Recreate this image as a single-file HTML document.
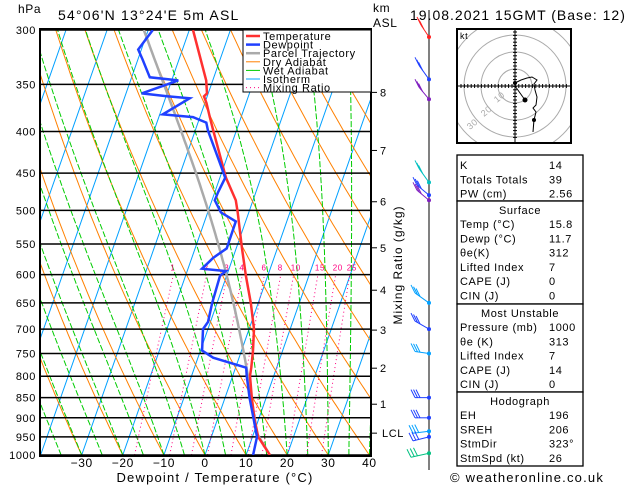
<!DOCTYPE html>
<html><head><meta charset="utf-8"><style>
body{margin:0;background:#fff;}
svg{display:block;font-family:"Liberation Sans","DejaVu Sans",sans-serif;letter-spacing:0.6px;}
</style></head><body>
<svg id="c" width="629" height="486" xmlns="http://www.w3.org/2000/svg">
<defs><clipPath id="pc"><rect x="40" y="29" width="331" height="427"/></clipPath>
<clipPath id="hc"><rect x="458" y="30" width="112" height="112"/></clipPath></defs>
<g id="bg" clip-path="url(#pc)"></g>
<g id="iso"></g>
<g id="prof" clip-path="url(#pc)"></g>
<rect x="40" y="29" width="331" height="427" fill="none" stroke="#000" stroke-width="2"/>
<text x="18" y="13" font-size="12">hPa</text>
<text x="58" y="20" font-size="14" letter-spacing="1.2">54°06'N 13°24'E 5m ASL</text>
<text x="373" y="12" font-size="12">km</text>
<text x="373" y="27" font-size="12">ASL</text>
<text x="410" y="20" font-size="14" letter-spacing="1">19.08.2021 15GMT (Base: 12)</text>
<g id="legend">
<rect x="243" y="30" width="128" height="62" fill="#fff" stroke="#000" stroke-width="1"/>
</g>
<g id="ylab"></g>
<g id="xlab"></g>
<text x="215" y="482" font-size="13" letter-spacing="1.2" text-anchor="middle">Dewpoint / Temperature (°C)</text>
<text transform="translate(402,265) rotate(-90)" font-size="12" letter-spacing="1" text-anchor="middle">Mixing Ratio (g/kg)</text>
<g id="km"></g>
<g id="wind"></g>
<g id="hodo"></g>
<g id="tbl"></g>
<text x="450" y="482" font-size="13" letter-spacing="1.2">© weatheronline.co.uk</text>
</svg>
<script>
// ---- data ----
const tempP = [1000,950,900,850,799,780,744,700,650,602,557,503,486,456,399,384,369,362,359,346,300];
const tempT = [15.8,11.4,8.8,6.5,4.2,3.8,2.8,1.2,-1.8,-5.3,-8.6,-12.7,-14.2,-18.5,-25.6,-27.6,-29.6,-30.8,-30.3,-31.6,-39.1];
const dewP = [1000,950,900,851,799,781,759,744,700,686,650,602,594,590,572,557,516,503,486,475,456,444,399,390,384,381,364,362,359,346,343,326,317,300];
const dewT = [11.7,11.1,8.6,6.0,3.4,2.6,-6.3,-9.6,-11.2,-10.6,-11.2,-11.6,-10.6,-16.6,-14.8,-12.3,-12.4,-16.8,-19.3,-19.2,-18.7,-20.3,-26.9,-28.0,-31.7,-39.3,-34.1,-39.8,-46.2,-38.4,-45.6,-48.9,-50.8,-48.9];
const pTicks = [300,350,400,450,500,550,600,650,700,750,800,850,900,950,1000];
const tTicks = [-30,-20,-10,0,10,20,30,40];
const mixRatios = [1,2,3,4,6,8,10,15,20,25];
const kmLabels = ['8','7','6','5','4','3','2','1','LCL'];
const kmPress = [358,422,488,556,627,702,782,866,940];
const tableLabels = ['K','Totals Totals','PW (cm)'];
const tableValues = ['14','39','2.56'];
const surfLabels = ['Temp (°C)','Dewp (°C)','θe(K)','Lifted Index','CAPE (J)','CIN (J)'];
const surfValues = ['15.8','11.7','312','7','0','0'];
const muLabels = ['Pressure (mb)','θe (K)','Lifted Index','CAPE (J)','CIN (J)'];
const muValues = ['1000','313','7','14','0'];
const hodoLabels = ['EH','SREH','StmDir','StmSpd (kt)'];
const hodoValues = ['196','206','323°','26'];
// ---- axes ----
const NS='http://www.w3.org/2000/svg';
const Y0=30,Y1=455,X0=205,SX=4.11,SK=0.35;
function yP(p){return Y0+(Y1-Y0)*Math.log(p/300)/Math.log(1000/300);}
function xT(t,p){return X0+t*SX+(Y1-yP(p))*SK;}
function el(tag,attrs,parent){const e=document.createElementNS(NS,tag);for(const k in attrs)e.setAttribute(k,attrs[k]);parent.appendChild(e);return e;}
function line(pts,color,w,dash,parent){return el('polyline',{points:pts.map(a=>a[0].toFixed(1)+','+a[1].toFixed(1)).join(' '),fill:'none',stroke:color,'stroke-width':w,'stroke-dasharray':dash||'none'},parent);}
const bg=document.getElementById('bg');
const plev=[];for(let p=1000;p>=290;p-=10)plev.push(p);
for(let t=-130;t<=40;t+=10){const l=line([[xT(t,1000),yP(1000)],[xT(t,300),yP(300)]],'#00a0ff',1,null,bg);

}
for(let th=-40;th<=200;th+=10){const pts=plev.map(p=>{const T=(th+273.15)*Math.pow(p/1000,0.286)-273.15;return[xT(T,p),yP(p)];});
const l=line(pts,'#ff8000',1,null,bg);

}
function es(T){return 6.112*Math.exp(17.67*T/(T+243.5));}
function moist(T0,p0,p1){const pts=[];let T=T0+273.15;const step=p1<p0?-5:5;for(let p=p0;step<0?p>=p1:p<=p1;p+=step){pts.push([T-273.15,p]);const e=es(T-273.15);const rs=0.622*e/(p-e);const Rd=287,Lv=2.5e6,cp=1004;const d=(Rd*T+Lv*rs)/(p*(cp+Lv*Lv*rs*0.622/(Rd*T*T)));T+=d*step;}return pts;}
for(let tw=-40;tw<=40;tw+=5){const pts=moist(tw,1000,300).map(a=>[xT(a[0],a[1]),yP(a[1])]);
const l=line(pts,'#00cc00',1,'6,2',bg);

}
function tdw(w,p){const e=w*p/(622+w);const L=Math.log(e/6.112);return 243.5*L/(17.67-L);}
const mlev=[];for(let p=1000;p>=600;p-=10)mlev.push(p);
mixRatios.forEach(w=>{const l=line(mlev.map(p=>[xT(tdw(w,p),p),yP(p)]),'#ff0080',1,'1,3',bg);


const t=el('text',{x:xT(tdw(w,600),600)-3,y:yP(600)-4,'font-size':8,fill:'#ff0080'},bg);t.textContent=w;

});
const iso=document.getElementById('iso'),yl=document.getElementById('ylab');
pTicks.forEach(p=>{const l=el('line',{x1:40,x2:371,y1:yP(p),y2:yP(p),stroke:'#000','stroke-width':1.5},iso);


const t=el('text',{x:36,y:yP(p)+4,'font-size':11,'text-anchor':'end'},yl);t.textContent=p;

});
const xl=document.getElementById('xlab');
tTicks.forEach(t=>{const e=el('text',{x:xT(t,1000),y:467,'font-size':12,'text-anchor':'middle'},xl);e.textContent=(t<0?'−':'')+Math.abs(t);

});
const km=document.getElementById('km');
kmLabels.forEach((k,i)=>{const y=yP(kmPress[i]);el('line',{x1:371,x2:377,y1:y,y2:y,stroke:'#000'},km);
const t=el('text',{x:k==='LCL'?382:380,y:y+4,'font-size':11},km);t.textContent=k;

});
const prof=document.getElementById('prof');
let parcel=[];{const T0=15.8;const plcl=940;const Tl=(T0+273.15)*Math.pow(plcl/1000,0.286)-273.15;
for(let p=1000;p>plcl;p-=10)parcel.push([(T0+273.15)*Math.pow(p/1000,0.286)-273.15,p]);parcel=parcel.concat(moist(Tl,plcl,300));}
let l=line(parcel.map(a=>[xT(a[0],a[1]),yP(a[1])]),'#aaaaaa',2.5,null,prof);


l=line(tempP.map((p,i)=>[xT(tempT[i],p),yP(p)]),'#ff3030',2.5,null,prof);


l=line(dewP.map((p,i)=>[xT(dewT[i],p),yP(p)]),'#2040ff',2.5,null,prof);


const lg=document.getElementById('legend');
const legItems=[['Temperature','#ff3030',2.5,null],['Dewpoint','#2040ff',2.5,null],['Parcel Trajectory','#aaaaaa',2.5,null],['Dry Adiabat','#ff8000',1,null],['Wet Adiabat','#00cc00',1,null],['Isotherm','#00a0ff',1,null],['Mixing Ratio','#ff0080',1,'1,3']];
legItems.forEach((it,i)=>{const y=36+i*8.6;el('line',{x1:246,x2:260,y1:y,y2:y,stroke:it[1],'stroke-width':it[2],'stroke-dasharray':it[3]||'none'},lg);
const t=el('text',{x:263,y:y+4,'font-size':11},lg);t.textContent=it[0];

});
const wd=document.getElementById('wind');
el('line',{x1:429,x2:429,y1:10,y2:470,stroke:'#000'},wd);
const barbs=[[306,'#ff2020',-8,-12],[345,'#2040ff',-10,-14],[365,'#8020c0',-10,-12],[462,'#00c0c0',-10,-14],[479,'#2040ff',-12,-10],[486,'#8020c0',-12,-10],[650,'#00a0ff',-14,-10],[700,'#2040ff',-14,-8],[750,'#00a0ff',-14,-2],[850,'#2040ff',-14,0],[900,'#2040ff',-14,0],[935,'#00a0ff',-16,2],[950,'#2040ff',-16,4],[995,'#00c080',-18,4]];
barbs.forEach(b=>{const y=yP(b[0]);const g=el('g',{},wd);


el('line',{x1:429,y1:y,x2:429+b[2],y2:y+b[3],stroke:b[1]},g);
for(let k=0;k<3;k++){el('line',{x1:429+b[2]*(1-k*0.18),y1:y+b[3]*(1-k*0.18),x2:429+b[2]*(1-k*0.18)-4,y2:y+b[3]*(1-k*0.18)-8,stroke:b[1]},g);}
el('circle',{cx:429,cy:y,r:2,fill:b[1]},g);});
const hd=document.getElementById('hodo');const cx=515,cy=86;
el('rect',{x:457,y:29,width:114,height:114,fill:'#fff',stroke:'#000','stroke-width':2},hd);
const hc=el('g',{'clip-path':'url(#hc)'},hd);
[17,34,51,68].forEach(r=>el('circle',{cx,cy,r,fill:'none',stroke:'#aaa'},hc));
el('line',{x1:458,x2:570,y1:cy,y2:cy,stroke:'#000'},hd);el('line',{x1:cx,x2:cx,y1:30,y2:142,stroke:'#000'},hd);
for(let d=-54;d<=54;d+=3.4){el('line',{x1:cx+d,x2:cx+d,y1:cy-2,y2:cy+2,stroke:'#000'},hd);el('line',{y1:cy+d,y2:cy+d,x1:cx-2,x2:cx+2,stroke:'#000'},hd);}
let t=el('text',{x:460,y:39,'font-size':9},hd);t.textContent='kt';
[['10',497,103],['20',484,117],['30',470,130]].forEach(a=>{const e=el('text',{x:a[1],y:a[2],'font-size':9,fill:'#aaa',transform:`rotate(-40 ${a[1]} ${a[2]})`},hd);e.textContent=a[0];});
line([[515,83],[521,80],[527,78],[532,77],[537,80],[534,84],[535,90],[537,97],[536,105],[533,108],[536,112],[534,120],[533,132],[534,119]],'#000',1,null,hd);
el('circle',{cx:515,cy:83,r:2,fill:'#000'},hd);el('circle',{cx:534,cy:120,r:2,fill:'#000'},hd);
el('line',{x1:515,y1:86,x2:525,y2:100,stroke:'#000'},hd);el('circle',{cx:525,cy:100,r:2.5,fill:'#000'},hd);
const tb=document.getElementById('tbl');
function box(y,h){el('rect',{x:457,y,width:126,height:h,fill:'#fff',stroke:'#000','stroke-width':1.3},tb);}
function rows(labels,vals,y0){labels.forEach((lb,i)=>{const a=el('text',{x:460,y:y0+i*14.3,'font-size':11},tb);a.textContent=lb;


const b=el('text',{x:549,y:y0+i*14.3,'font-size':11},tb);b.textContent=vals[i];

});}
function head(txt,y){const e=el('text',{x:520,y,'font-size':11,'text-anchor':'middle'},tb);e.textContent=txt;}
box(155,46);rows(tableLabels,tableValues,169);
box(201,103);head('Surface',214);rows(surfLabels,surfValues,228);
box(304,88);head('Most Unstable',317);rows(muLabels,muValues,331);
box(392,74);head('Hodograph',405);rows(hodoLabels,hodoValues,419);
</script>
</body></html>
